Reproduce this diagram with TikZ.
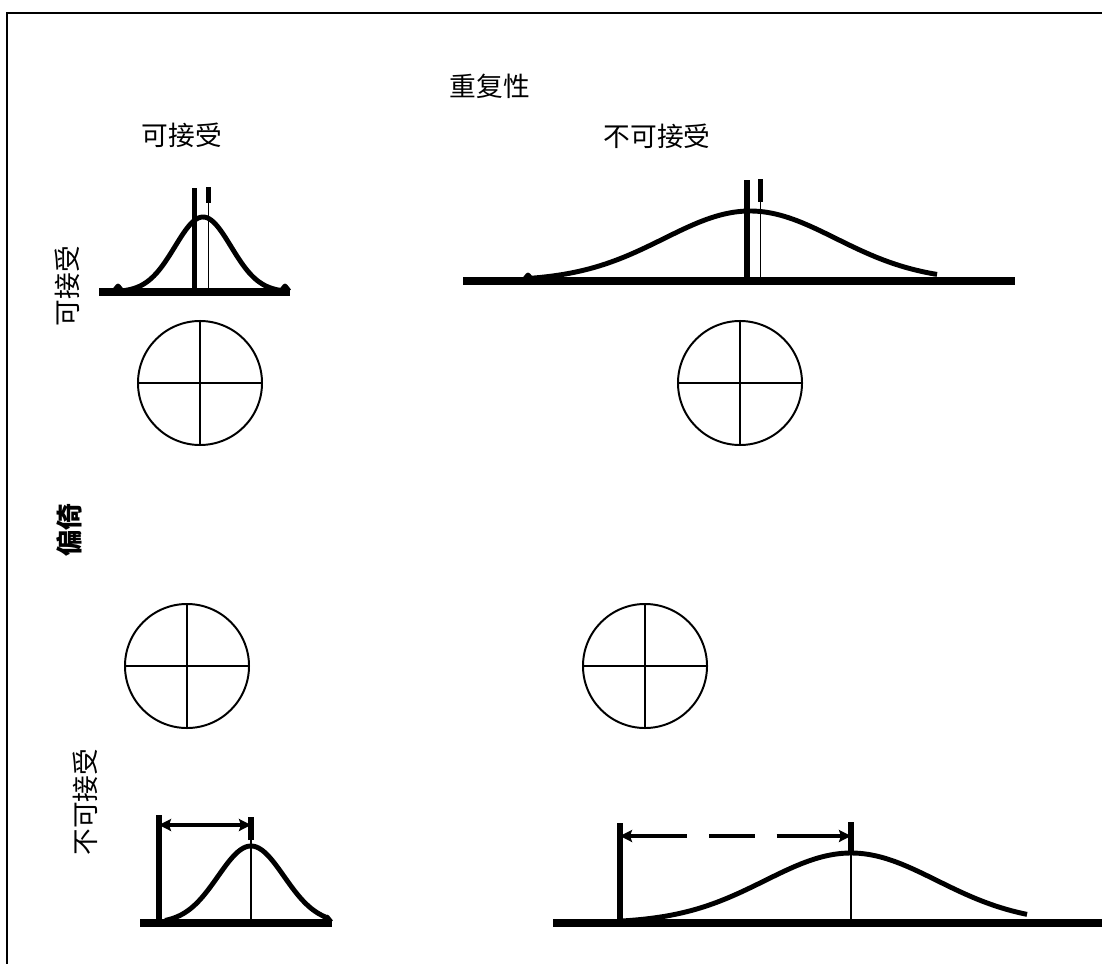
\documentclass[tikz,border=0pt]{standalone}
\usepackage{fontspec}
\newfontfamily\cjk{Noto Sans CJK SC}
\usetikzlibrary{arrows.meta}
\tikzset{
	axisline/.style={line width=5pt},
	bell/.style={line width=3.5pt, line join=round},
	meanbar/.style={line width=4pt},
	thinbar/.style={line width=1.2pt},
	target/.style={circle, draw, line width=1.4pt, minimum size=3.1cm, inner sep=0pt},
	txt/.style={font=\cjk\fontsize{19}{22}\selectfont, inner sep=0pt},
	span/.style={line width=3.5pt, {Stealth[length=0.3cm,width=0.3cm,inset=0.05cm]}-{Stealth[length=0.3cm,width=0.3cm,inset=0.05cm]}},
}

\begin{document}
\begin{tikzpicture}[x=0.025cm, y=-0.025cm]
	\useasboundingbox (0,0) rectangle (1102,964);
	\draw[line width=1.6pt] (7,964) -- (7,13) -- (1102,13);

	% titles
	\node[txt] (rep) at (490,86) {重复性};
	\node[txt] (repok) at (182,135) {可接受};
	\node[txt] (repbad) at (657,136) {不可接受};
	\node[txt, rotate=90] (biasok) at (67,286) {可接受};
	\node[txt, rotate=90, font=\cjk\bfseries\fontsize{19}{22}\selectfont] (bias) at (69,530) {偏倚};
	\node[txt, rotate=90] (biasbad) at (85,802) {不可接受};

	% narrow spread, on target
	\begin{scope}[shift={(203,292)}]
		\draw[axisline] (-104,0) -- (87,0);
		\draw[bell] plot[domain=-85:82, samples=80] (\x, {-75*exp(-0.5*(\x/28)*(\x/28))});
		\draw[bell] (-89,-1) -- (-85,-6) -- (-81,-1);
		\draw[bell] (78,-1) -- (82,-6) -- (86,-1);
		\draw[meanbar] (-8.5,0) -- (-8.5,-104);
		\draw[meanbar, line width=3pt] (5.5,-89) -- (5.5,-105);
		\draw[thinbar] (5.5,0) -- (5.5,-90);
	\end{scope}

	% wide spread, on target
	\begin{scope}[shift={(750,281)}]
		\draw[axisline] (-287,0) -- (265,0);
		\draw[bell] plot[domain=-222:187, samples=100] (\x, {-70*exp(-0.5*(\x/86)*(\x/86))});
		\draw[bell] (-226,-1) -- (-222,-6) -- (-218,-1);
		\draw[meanbar] (-3,0) -- (-3,-101);
		\draw[meanbar, line width=3pt] (10.5,-79) -- (10.5,-102);
		\draw[thinbar] (10.5,0) -- (10.5,-80);
	\end{scope}

	% targets
	\node[target] (hitA) at (200,383) {};
	\node[target] (hitB) at (740,383) {};
	\node[target] (hitC) at (187,666) {};
	\node[target] (hitD) at (645,666) {};
	\foreach \t in {hitA,hitB,hitC,hitD} {
		\draw[line width=1.4pt] (\t.north) -- (\t.south);
		\draw[line width=1.4pt] (\t.west) -- (\t.east);
	}

	% narrow spread, off target
	\begin{scope}[shift={(251,923)}]
		\draw[axisline] (-111,0) -- (81,0);
		\draw[bell] plot[domain=-86:74, samples=80] (\x, {-77*exp(-0.5*(\x/33)*(\x/33))});
		\draw[bell] (72,-1) -- (76,-6) -- (80,-1);
		\draw[meanbar] (-92,0) -- (-92,-108);
		\draw[meanbar] (0,-83) -- (0,-106);
		\draw[thinbar] (0,0) -- (0,-84);
		\coordinate (refL) at (-92,-98);
		\coordinate (meanL) at (0,-98);
	\end{scope}
	\draw[span] (refL) -- (meanL);

	% wide spread, off target
	\begin{scope}[shift={(851,923)}]
		\draw[axisline] (-298,0) -- (251,0);
		\draw[bell] plot[domain=-229:176, samples=100] (\x, {-70*exp(-0.5*(\x/86)*(\x/86))});
		\draw[meanbar] (-231,0) -- (-231,-100);
		\draw[meanbar] (0,-72) -- (0,-101);
		\draw[thinbar] (0,0) -- (0,-73);
		\coordinate (refR) at (-231,-87);
		\coordinate (meanR) at (0,-87);
	\end{scope}
	\draw[span, dash pattern=on 1.45cm off 0.55cm on 1.15cm off 0.53cm on 3cm] (refR) -- (meanR);
\end{tikzpicture}
\end{document}
